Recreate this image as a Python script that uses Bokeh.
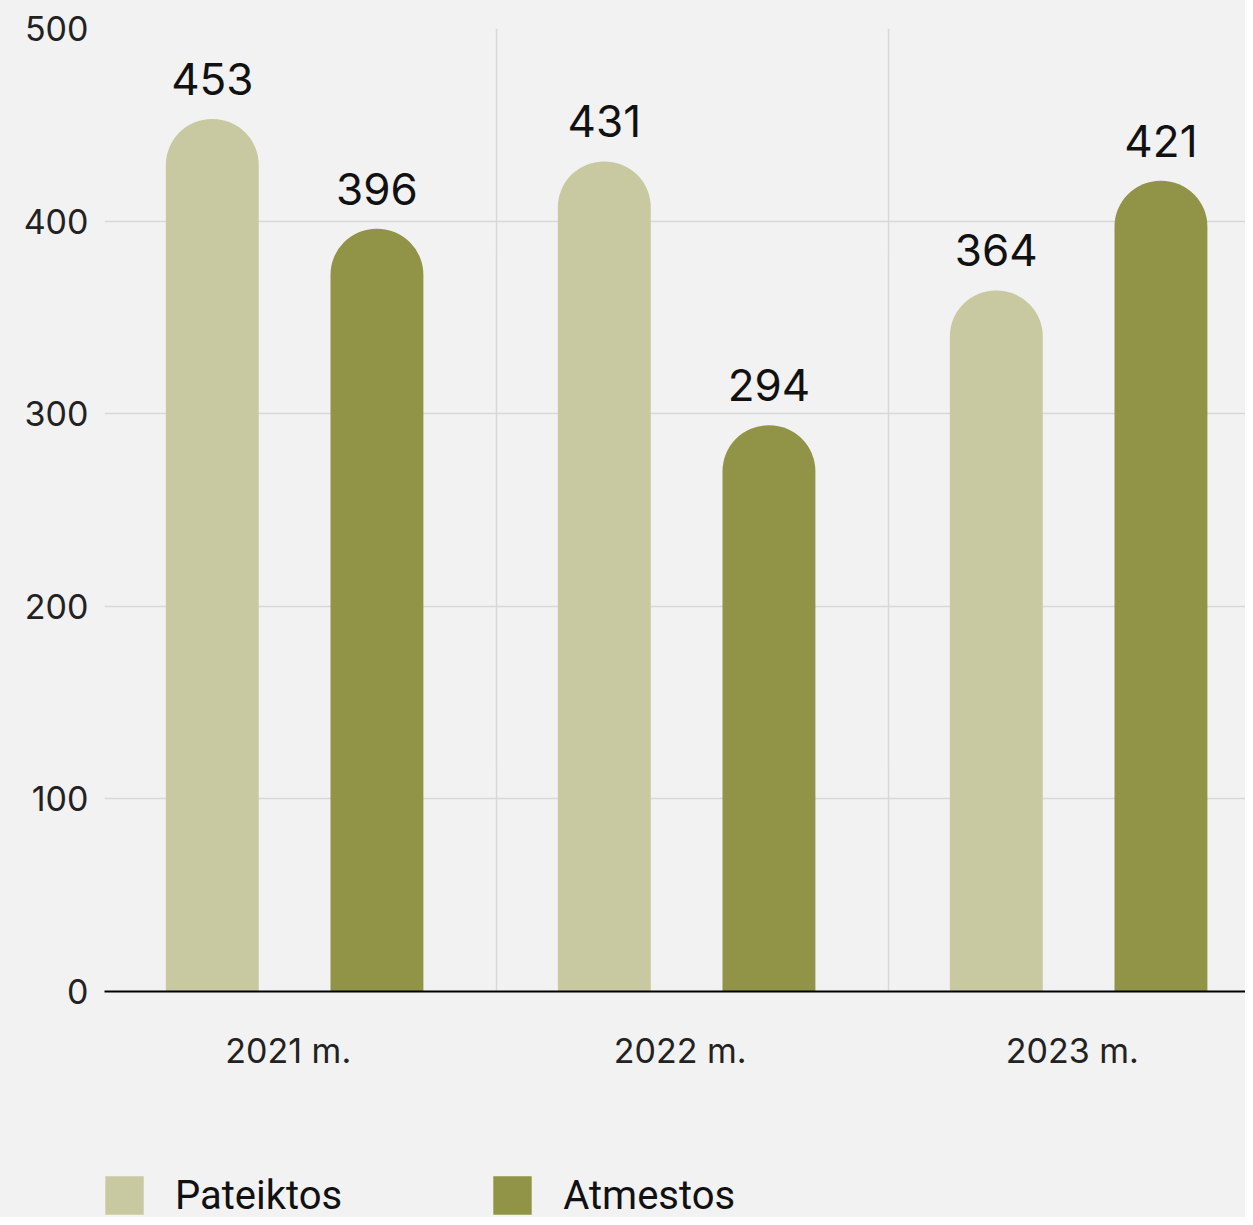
from bokeh.plotting import figure
from bokeh.models import Range1d, FixedTicker, Legend, LegendItem
from bokeh.layouts import column
from bokeh.core.properties import value
from bokeh.embed import file_html
from bokeh.resources import INLINE
import numpy as np

years = ["2021 m.", "2022 m.", "2023 m."]
pateiktos = [453, 431, 364]
atmestos = [396, 294, 421]
series_names = ["Pateiktos", "Atmestos"]
colors = ["#c8c9a1", "#919446"]
y_ticks = [0, 100, 200, 300, 400, 500]

idx = np.arange(len(years))
BG = "#f2f2f2"

p = figure(width=1245, height=1101,
           x_range=Range1d(0, 2.9107), y_range=Range1d(0, 500),
           output_backend="svg", toolbar_location=None,
           min_border_left=104, min_border_right=0, min_border_top=28, min_border_bottom=110,
           background_fill_color=BG, border_fill_color=BG,
           outline_line_color=None)

# grids
p.ygrid.ticker = FixedTicker(ticks=y_ticks)
p.ygrid.grid_line_color = "#d8d8d8"
p.ygrid.grid_line_width = 1.5
p.xgrid.ticker = FixedTicker(ticks=[0, 1, 2, 3])
p.xgrid.grid_line_color = "#d8d8d8"
p.xgrid.grid_line_width = 1.5

# y axis
p.yaxis.ticker = FixedTicker(ticks=y_ticks)
p.yaxis.axis_line_color = None
p.yaxis.major_tick_line_color = None
p.yaxis.minor_tick_line_color = None
p.yaxis.major_label_text_font = "Inter"
p.yaxis.major_label_text_font_size = "34px"
p.yaxis.major_label_text_color = "#222222"
p.yaxis.major_label_standoff = 10

# x axis
label_pos = [float(i) + 0.46875 for i in idx]
p.xaxis.ticker = FixedTicker(ticks=label_pos)
p.xaxis.major_label_overrides = {pos: yr for pos, yr in zip(label_pos, years)}
p.xaxis.axis_line_color = "black"
p.xaxis.axis_line_width = 2
p.xaxis.major_tick_line_color = None
p.xaxis.minor_tick_line_color = None
p.xaxis.major_label_text_font = "Inter"
p.xaxis.major_label_text_font_size = "34px"
p.xaxis.major_label_text_color = "#222222"
p.xaxis.major_label_standoff = 32

offsets = [-0.225, 0.195]
bar_w = 0.237
for vals, off, col in zip([pateiktos, atmestos], offsets, colors):
    xs = idx + 0.5 + off
    p.vbar(x=xs, top=vals, width=bar_w, bottom=0, fill_color=col, line_color=None,
           border_radius=(46, 46, 0, 0))
    p.text(x=xs, y=vals, text=[str(v) for v in vals], text_align="center",
           text_baseline="bottom", y_offset=-24, text_font=value("Inter"),
           text_font_size="44px", text_color="#111111")

# legend strip
lp = figure(width=1245, height=116, x_range=Range1d(0, 1), y_range=Range1d(0, 1),
            output_backend="svg", toolbar_location=None,
            x_axis_location=None, y_axis_location=None,
            min_border_left=104, min_border_right=0, min_border_top=0, min_border_bottom=0,
            background_fill_color=BG, border_fill_color=BG, outline_line_color=None)
lp.xgrid.visible = False
lp.ygrid.visible = False

legend_items = []
for name, col in zip(series_names, colors):
    sq = lp.vbar(x=[np.nan], top=[np.nan], width=0.1, fill_color=col, line_color=None)
    legend_items.append(LegendItem(label=name, renderers=[sq]))

legend = Legend(items=legend_items, orientation="horizontal", location=(-4, -2),
                glyph_width=48, glyph_height=48, label_standoff=27, spacing=146,
                label_text_font="Roboto", label_text_font_size="40px", label_text_color="#111111",
                padding=0, margin=0,
                border_line_color=None, background_fill_alpha=0)
lp.add_layout(legend, "center")

layout = column(p, lp, spacing=0, styles={"background-color": BG})
open("out.html", "w").write(file_html(layout, INLINE))
